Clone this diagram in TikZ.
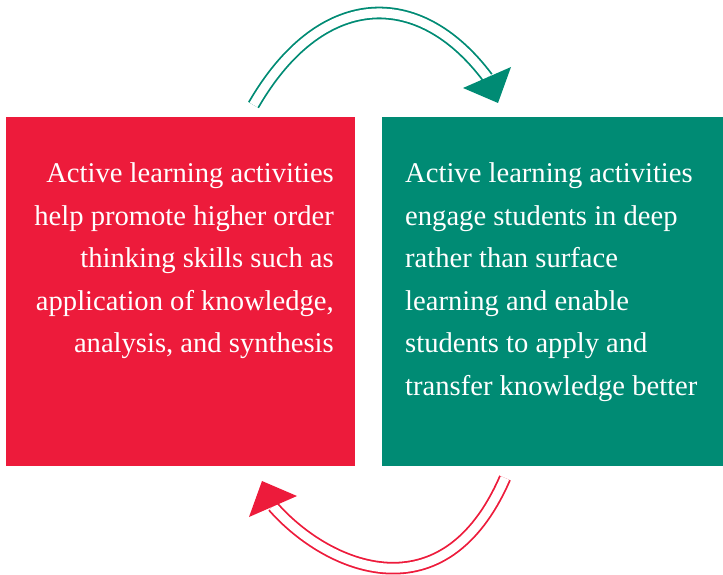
\documentclass[tikz,border=0pt]{standalone}
\usepackage{fontspec}
\setmainfont{Liberation Serif}
\definecolor{cyclered}{RGB}{237,27,59}
\definecolor{cyclegreen}{RGB}{0,139,116}
\tikzset{
  panel/.style={draw=none,minimum height=349pt,inner sep=0pt},
  paneltext/.style={text=white,inner sep=0pt,font=\fontsize{28.6}{42.5}\selectfont},
  twin/.style={double=white,double distance=9pt,line width=1.8pt},
}
\begin{document}
\begin{tikzpicture}[x=1pt,y=-1pt]
			\useasboundingbox (0,0) rectangle (723,575);

			\node [panel,fill=cyclered,minimum width=349pt] (redbox) at (180.5,291.5) {};
			\node [panel,fill=cyclegreen,minimum width=341pt] (greenbox) at (552.5,291.5) {};

			\node [paneltext,align=right,anchor=north east] (redtext) at (334,162.5) {Active learning activities\\help promote higher order\\thinking skills such as\\application of knowledge,\\analysis, and synthesis};
			\node [paneltext,align=left,anchor=north west] (greentext) at (405,162.5) {Active learning activities\\engage students in deep\\rather than surface\\learning and enable\\students to apply and\\transfer knowledge better};

			% top arrow
			\coordinate (topstart) at (253.5,105);
			\coordinate (topend) at (487.5,77.5);
			\coordinate (topa) at (463,88);
			\coordinate (topb) at (511,67);
			\coordinate (topc) at (498,103);
			\draw [twin,draw=cyclegreen] (topstart) .. controls (320,-10) and (418,-15) .. (topend);
			\fill [cyclegreen] (topa) -- (topb) -- (topc) -- cycle;

			% bottom arrow
			\coordinate (botstart) at (505,478);
			\coordinate (botend) at (273,506.5);
			\coordinate (bota) at (297,496);
			\coordinate (botb) at (249,517);
			\coordinate (botc) at (262,481);
			\draw [twin,draw=cyclered] (botstart) .. controls (444.4,617.3) and (328.2,569.3) .. (botend);
			\fill [cyclered] (bota) -- (botb) -- (botc) -- cycle;
		\end{tikzpicture}
\end{document}
